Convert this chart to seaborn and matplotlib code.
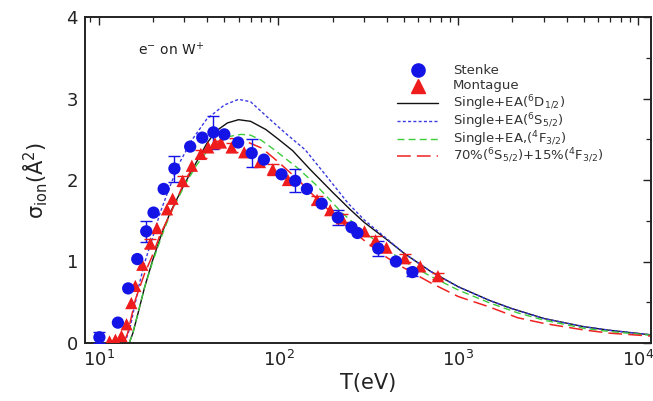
import numpy as np
import pandas as pd
import matplotlib
matplotlib.use("Agg")
import matplotlib.pyplot as plt
import seaborn as sns
from matplotlib.ticker import LogLocator, MultipleLocator, NullFormatter
from matplotlib.lines import Line2D

# ---------------- data ----------------
stenke_T = [10.1, 12.8, 14.6, 16.4, 18.4, 20.2, 23.0, 26.4, 32.3, 37.7, 43.5, 50.0,
            59.7, 71.0, 83.0, 104, 124, 144, 174, 214, 255, 275, 359, 450, 556]
stenke_s = [0.07, 0.25, 0.67, 1.03, 1.37, 1.60, 1.89, 2.14, 2.41, 2.52, 2.585, 2.56,
            2.46, 2.33, 2.25, 2.07, 1.99, 1.89, 1.71, 1.54, 1.42, 1.35, 1.16, 1.00, 0.87]
stenke_err = [0.07, 0, 0, 0, 0.13, 0, 0, 0.16, 0, 0, 0.20, 0,
              0, 0.17, 0, 0, 0.14, 0, 0, 0.09, 0, 0, 0.09, 0, 0.05]

montague_T = [11.5, 12.4, 13.4, 14.3, 15.2, 16.0, 17.5, 19.4, 21.1, 24.0, 25.8, 29.3,
              33.0, 37.0, 40.7, 44.4, 47.9, 54.9, 64.5, 78.9, 93, 113, 164, 194, 225,
              301, 347, 399, 504, 615, 771]
montague_s = [0.02, 0.04, 0.086, 0.23, 0.49, 0.70, 0.96, 1.22, 1.41, 1.64, 1.77, 1.99,
              2.175, 2.32, 2.40, 2.45, 2.46, 2.40, 2.34, 2.22, 2.13, 2.00, 1.755, 1.63, 1.53,
              1.37, 1.26, 1.17, 1.04, 0.94, 0.82]
montague_err = [0, 0, 0, 0, 0, 0, 0, 0.05, 0, 0, 0, 0.06,
                0, 0.05, 0, 0, 0, 0.06, 0, 0, 0.07, 0, 0.05, 0, 0.05,
                0, 0.05, 0, 0.05, 0, 0.04]

d12_T = [14.8, 15.5, 16.5, 18, 20, 22.5, 25, 30, 35, 40, 45, 52, 60, 70, 85, 100, 120,
         150, 200, 250, 300, 400, 500, 700, 1000, 1500, 2000, 3000, 5000, 7000, 11800]
d12_s = [0.0, 0.12, 0.35, 0.68, 1.02, 1.35, 1.6, 1.95, 2.22, 2.45, 2.6, 2.7, 2.74, 2.72,
         2.62, 2.5, 2.36, 2.13, 1.85, 1.64, 1.48, 1.27, 1.1, 0.88, 0.69, 0.52, 0.42, 0.3,
         0.2, 0.155, 0.1]

s52_T = [14.0, 15.0, 16.7, 18, 20, 22, 24.5, 28, 33, 40, 50, 60, 70, 88, 110, 141, 180,
         245, 300, 400, 500, 700, 1000, 1500, 2000, 3000, 5000, 7000, 11800]
s52_s = [0.0, 0.2, 0.69, 0.98, 1.3, 1.6, 1.88, 2.2, 2.49, 2.75, 2.92, 2.99, 2.96, 2.76,
         2.57, 2.37, 2.08, 1.71, 1.51, 1.28, 1.1, 0.88, 0.69, 0.52, 0.42, 0.3, 0.2, 0.155,
         0.1]

f32_T = [14.8, 15.5, 16.5, 18, 20, 22.5, 25, 30, 35, 40, 45, 52, 62, 70, 80, 95, 110,
         129, 160, 225, 300, 400, 500, 700, 1000, 1500, 2140, 3000, 5000, 7000, 11800]
f32_s = [0.0, 0.12, 0.36, 0.68, 1.0, 1.32, 1.58, 1.93, 2.18, 2.35, 2.45, 2.53, 2.56, 2.55,
         2.49, 2.37, 2.26, 2.14, 1.95, 1.6, 1.36, 1.15, 1.0, 0.82, 0.65, 0.49, 0.37, 0.28,
         0.18, 0.14, 0.095]

mix_T = [13.8, 14.5, 16, 18, 19.8, 22, 25.6, 30.3, 37.5, 45, 55, 65, 81, 100, 129, 165,
         225, 315, 400, 500, 700, 1000, 1500, 2140, 3000, 5000, 7000, 11800]
mix_s = [0.0, 0.12, 0.53, 0.85, 1.06, 1.33, 1.63, 2.0, 2.33, 2.47, 2.51, 2.48, 2.39, 2.22,
         2.0, 1.76, 1.48, 1.22, 1.05, 0.92, 0.74, 0.57, 0.44, 0.31, 0.24, 0.16, 0.12, 0.085]

x_ticks = [10, 100, 1000, 10000]
x_ticklabels = [r"10$^{1}$", r"10$^{2}$", r"10$^{3}$", r"10$^{4}$"]
y_ticks = [0, 1, 2, 3, 4]

labels = ["Stenke", "Montague",
          r"Single+EA($^{6}$D$_{1/2}$)",
          r"Single+EA($^{6}$S$_{5/2}$)",
          r"Single+EA,($^{4}$F$_{3/2}$)",
          r"70%($^{6}$S$_{5/2}$)+15%($^{4}$F$_{3/2}$)"]

# ---------------- figure ----------------
sns.set_theme(style="white")
plt.rcParams['font.family'] = ['DejaVu Sans']
plt.rcParams['mathtext.default'] = 'regular'

W, H = 653, 401
fig = plt.figure(figsize=(W / 100, H / 100), dpi=100)
ax = fig.add_axes([85/W, 1 - 343/H, 566/W, 326/H])

BLUE = "#1414e6"
RED = "#ee1c1c"

curves = [
    (d12_T, d12_s, "#111111", "-", 1.0),
    (s52_T, s52_s, "#3a3ae0", (0, (2.2, 1.6)), 1.0),
    (f32_T, f32_s, "#3ccc3c", (0, (5, 3)), 1.0),
    (mix_T, mix_s, "#ee2222", (0, (9, 4)), 1.1),
]
styles = []
for T, s, c, ls, lw in curves:
    df = pd.DataFrame({"T": T, "s": s})
    sns.lineplot(data=df, x="T", y="s", ax=ax, color=c, linewidth=lw,
                 estimator=None, sort=False, legend=False)
    ax.lines[-1].set_linestyle(ls)
    styles.append(dict(color=c, linestyle=ls, linewidth=lw))

# error bars
for T, s, e, c in [(stenke_T, stenke_s, stenke_err, BLUE),
                   (montague_T, montague_s, montague_err, RED)]:
    T = np.array(T); s = np.array(s); e = np.array(e)
    m = e > 0
    ax.errorbar(T[m], s[m], yerr=e[m], fmt="none", ecolor=c, elinewidth=1.0,
                capsize=4, capthick=1.0, zorder=3)

sdf = pd.DataFrame({"T": stenke_T, "s": stenke_s})
mdf = pd.DataFrame({"T": montague_T, "s": montague_s})
sns.scatterplot(data=mdf, x="T", y="s", ax=ax, marker="^", color=RED, s=78,
                edgecolor="none", zorder=4, legend=False)
sns.scatterplot(data=sdf, x="T", y="s", ax=ax, marker="o", color=BLUE, s=78,
                edgecolor="none", zorder=5, legend=False)

ax.set_xscale("log")
ax.set_xlim(8.4, 11800)
ax.set_ylim(0, 4)
ax.set_xticks(x_ticks)
ax.set_xticklabels(x_ticklabels, fontsize=13)
ax.xaxis.set_minor_locator(LogLocator(base=10, subs=np.arange(2, 10)))
ax.xaxis.set_minor_formatter(NullFormatter())
ax.set_yticks(y_ticks)
ax.set_yticklabels([str(v) for v in y_ticks], fontsize=13)
ax.yaxis.set_minor_locator(MultipleLocator(0.5))
ax.tick_params(which="both", direction="in", top=True, right=True, colors="#222222",
               labelcolor="#222222")
ax.tick_params(which="major", length=6, width=1.0, pad=5)
ax.tick_params(which="minor", length=3.5, width=0.9)
for sp in ax.spines.values():
    sp.set_linewidth(1.4)
    sp.set_color("#222222")

ax.set_xlabel("T(eV)", fontsize=15, color="#222222", labelpad=2)
ax.set_ylabel(r"$\sigma_{ion}$(Å$^{2}$)", fontsize=15, color="#222222", labelpad=12)

ax.text(0.094, 0.90, r"e$^{-}$ on W$^{+}$", transform=ax.transAxes, fontsize=10,
        color="#222222", va="center", ha="left")

# ---------------- legend (rows spaced evenly as in the reference) ----------------
row_y = [70, 86, 103, 121, 139, 156]          # pixel rows of the legend entries
h_x0, h_x1, txt_x = 397, 438, 453             # handle span and text start (pixels)
def fx(px):
    return px / W
def fy(py):
    return 1 - py / H

fig.add_artist(Line2D([fx((h_x0 + h_x1) / 2)], [fy(row_y[0])], marker="o", color=BLUE,
                      linestyle="none", markersize=9.5, transform=fig.transFigure))
fig.add_artist(Line2D([fx((h_x0 + h_x1) / 2)], [fy(row_y[1])], marker="^", color=RED,
                      linestyle="none", markersize=9.5, transform=fig.transFigure))
for st, yy in zip(styles, row_y[2:]):
    fig.add_artist(Line2D([fx(h_x0), fx(h_x1)], [fy(yy), fy(yy)],
                          transform=fig.transFigure, **st))
for lab, yy in zip(labels, row_y):
    fig.text(fx(txt_x), fy(yy), lab, fontsize=9.5, color="#333333",
             ha="left", va="center")

fig.savefig("out.png", dpi=100)
